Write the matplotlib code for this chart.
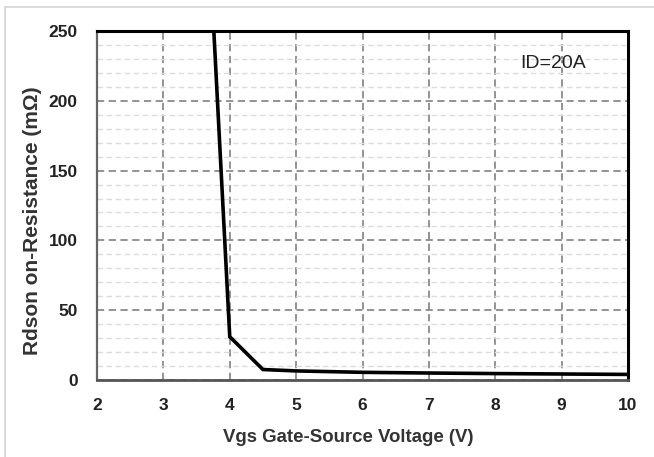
import matplotlib
matplotlib.use("Agg")
import matplotlib.pyplot as plt
from matplotlib.ticker import MultipleLocator
from matplotlib.patches import Rectangle

vgs = [3.76, 4.0, 4.5, 5.0, 6.0, 7.0, 8.0, 9.0, 10.0]
rdson = [250, 31, 7.5, 6.5, 5.5, 5.0, 4.6, 4.3, 4.0]
x_ticks = [2, 3, 4, 5, 6, 7, 8, 9, 10]
y_ticks = [0, 50, 100, 150, 200, 250]

plt.rcParams['font.family'] = ['Liberation Sans', 'DejaVu Sans']

fig = plt.figure(figsize=(6.54, 4.57), dpi=100)
# outer light border
fig.patches.append(Rectangle((5/654, -0.1), 1.2, 1 - 7/457 + 0.1, transform=fig.transFigure,
                             fill=False, edgecolor='#d4d4d4', linewidth=1.2))
ax = fig.add_axes([97/654, 1 - 380/457, 531/654, 349/457])

ax.plot(vgs, rdson, color='black', linewidth=2.6, solid_joinstyle='miter', zorder=3)

ax.set_xlim(2, 10)
ax.set_ylim(0, 250)
ax.set_xticks(x_ticks)
ax.set_yticks(y_ticks)
ax.yaxis.set_minor_locator(MultipleLocator(10))
ax.grid(which='major', axis='both', color='#8a8a8a', linestyle=(0, (4, 2.5)), linewidth=1.3)
ax.grid(which='minor', axis='y', color='#dcdcdc', linestyle=(0, (4, 2.5)), linewidth=1.0)
ax.tick_params(which='both', length=0)
ax.tick_params(axis='x', pad=13, labelsize=12.5, labelcolor='#222222')
ax.tick_params(axis='y', pad=14, labelsize=12.5, labelcolor='#222222')
for lab in ax.get_xticklabels() + ax.get_yticklabels():
    lab.set_fontweight('bold')

ax.spines['top'].set_color('black')
ax.spines['top'].set_linewidth(2.2)
ax.spines['right'].set_color('black')
ax.spines['right'].set_linewidth(2.2)
ax.spines['left'].set_color('#666666')
ax.spines['left'].set_linewidth(1.6)
ax.spines['bottom'].set_color('#555555')
ax.spines['bottom'].set_linewidth(2.0)

ax.set_xlabel('Vgs Gate-Source Voltage (V)', fontsize=13.4, fontweight='bold', color='#333333')
ax.set_ylabel('Rdson on-Resistance (mΩ)', fontsize=15, fontweight='bold', color='#333333')
ax.xaxis.set_label_coords(0.473, -0.140)
ax.yaxis.set_label_coords(-0.104, 0.456)

ax.text(8.37, 227, 'ID=20A', fontsize=14, color='#222222', va='center', ha='left')

fig.savefig('out.png', dpi=100)
